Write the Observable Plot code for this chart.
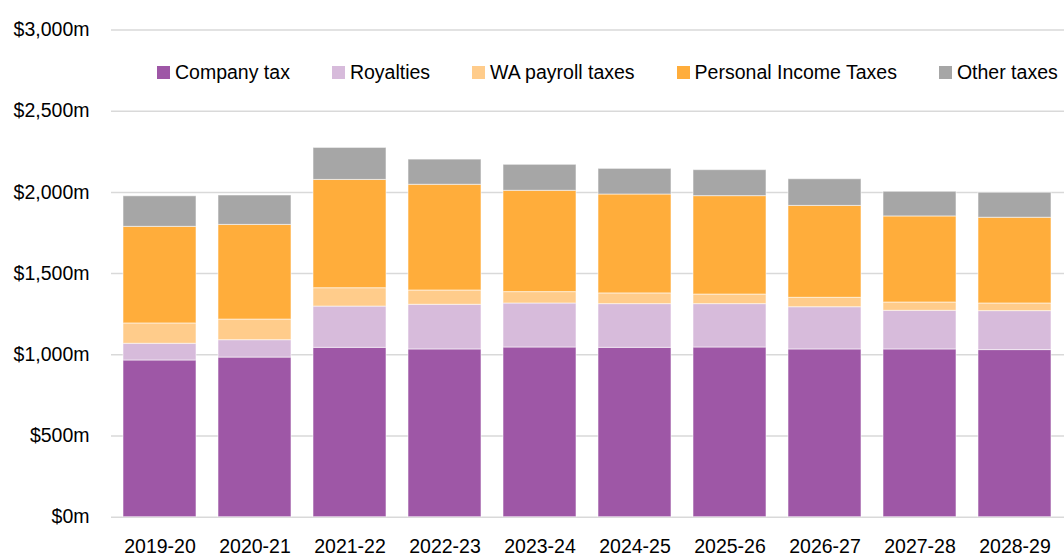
<!DOCTYPE html>
<html>
<head>
<meta charset="utf-8">
<script src="https://cdn.jsdelivr.net/npm/d3@7"></script>
<script src="https://cdn.jsdelivr.net/npm/@observablehq/plot@0.6"></script>
<style>
  html, body { margin: 0; padding: 0; background: #fff; }
  #wrap { position: relative; width: 1064px; height: 556px; font-family: "Liberation Sans", Arial, sans-serif; }
  #legend { position: absolute; left: 157px; top: 60px; height: 24px; display: flex; align-items: center; font-size: 19.5px; color: #000; white-space: nowrap; }
  .item { display: flex; align-items: center; margin-right: 42px; }
  .sw { width: 13px; height: 13px; margin-right: 5px; }
  svg { display: block; }
</style>
</head>
<body>
<div id="wrap"><div id="legend"></div></div>
<script>
const years = ["2019-20","2020-21","2021-22","2022-23","2023-24","2024-25","2025-26","2026-27","2027-28","2028-29"];
const series = ["Company tax","Royalties","WA payroll taxes","Personal Income Taxes","Other taxes"];
const colors = ["#9E57A6","#D7BBDB","#FFCC8B","#FFAD3B","#A6A6A6"];
const companyTax = [965, 983, 1043, 1033, 1045, 1043, 1045, 1033, 1033, 1029];
const royalties  = [103, 107, 254, 275, 271, 269, 267, 260, 238, 240];
const payroll    = [125, 127, 113, 88, 70, 66, 59, 58, 51, 47];
const personal   = [595, 583, 667, 651, 624, 609, 606, 566, 530, 528];
const other      = [188, 181, 197, 155, 160, 158, 160, 164, 152, 154];
const yTicks = [0, 500, 1000, 1500, 2000, 2500, 3000];

const valuesBySeries = [companyTax, royalties, payroll, personal, other];
const data = [];
series.forEach((s, i) => {
  years.forEach((y, j) => data.push({year: y, type: s, value: valuesBySeries[i][j]}));
});

const chart = Plot.plot({
  width: 1064,
  height: 556,
  marginLeft: 111,
  marginRight: 0,
  marginTop: 29.5,
  marginBottom: 39.3,
  style: {fontFamily: "'Liberation Sans', Arial, sans-serif", fontSize: "19.5px", color: "#000", background: "#fff"},
  x: {domain: years, range: [108.7, 1064.3], paddingInner: 0.236, paddingOuter: 0.118, label: null},
  y: {domain: [0, 3000], label: null},
  color: {domain: series, range: colors},
  marks: [
    Plot.ruleY(yTicks, {stroke: "#D9D9D9", strokeWidth: 1.5}),
    Plot.barY(data, {x: "year", y: "value", fill: "type", stroke: "#ffffff", strokeOpacity: 0.55, strokeWidth: 1}),
    Plot.axisY(yTicks, {tickSize: 0, tickPadding: 22, tickFormat: d => "$" + d3.format(",")(d) + "m", fontSize: "19.5px"}),
    Plot.axisX({tickSize: 0, tickPadding: 22, fontSize: "19.5px"})
  ]
});
const wrap = document.getElementById("wrap");
wrap.insertBefore(chart, wrap.firstChild);

const legend = document.getElementById("legend");
series.forEach((s, i) => {
  const item = document.createElement("div");
  item.className = "item";
  const sw = document.createElement("div");
  sw.className = "sw";
  sw.style.background = colors[i];
  const t = document.createElement("span");
  t.textContent = s;
  item.appendChild(sw);
  item.appendChild(t);
  legend.appendChild(item);
});
</script>
</body>
</html>
